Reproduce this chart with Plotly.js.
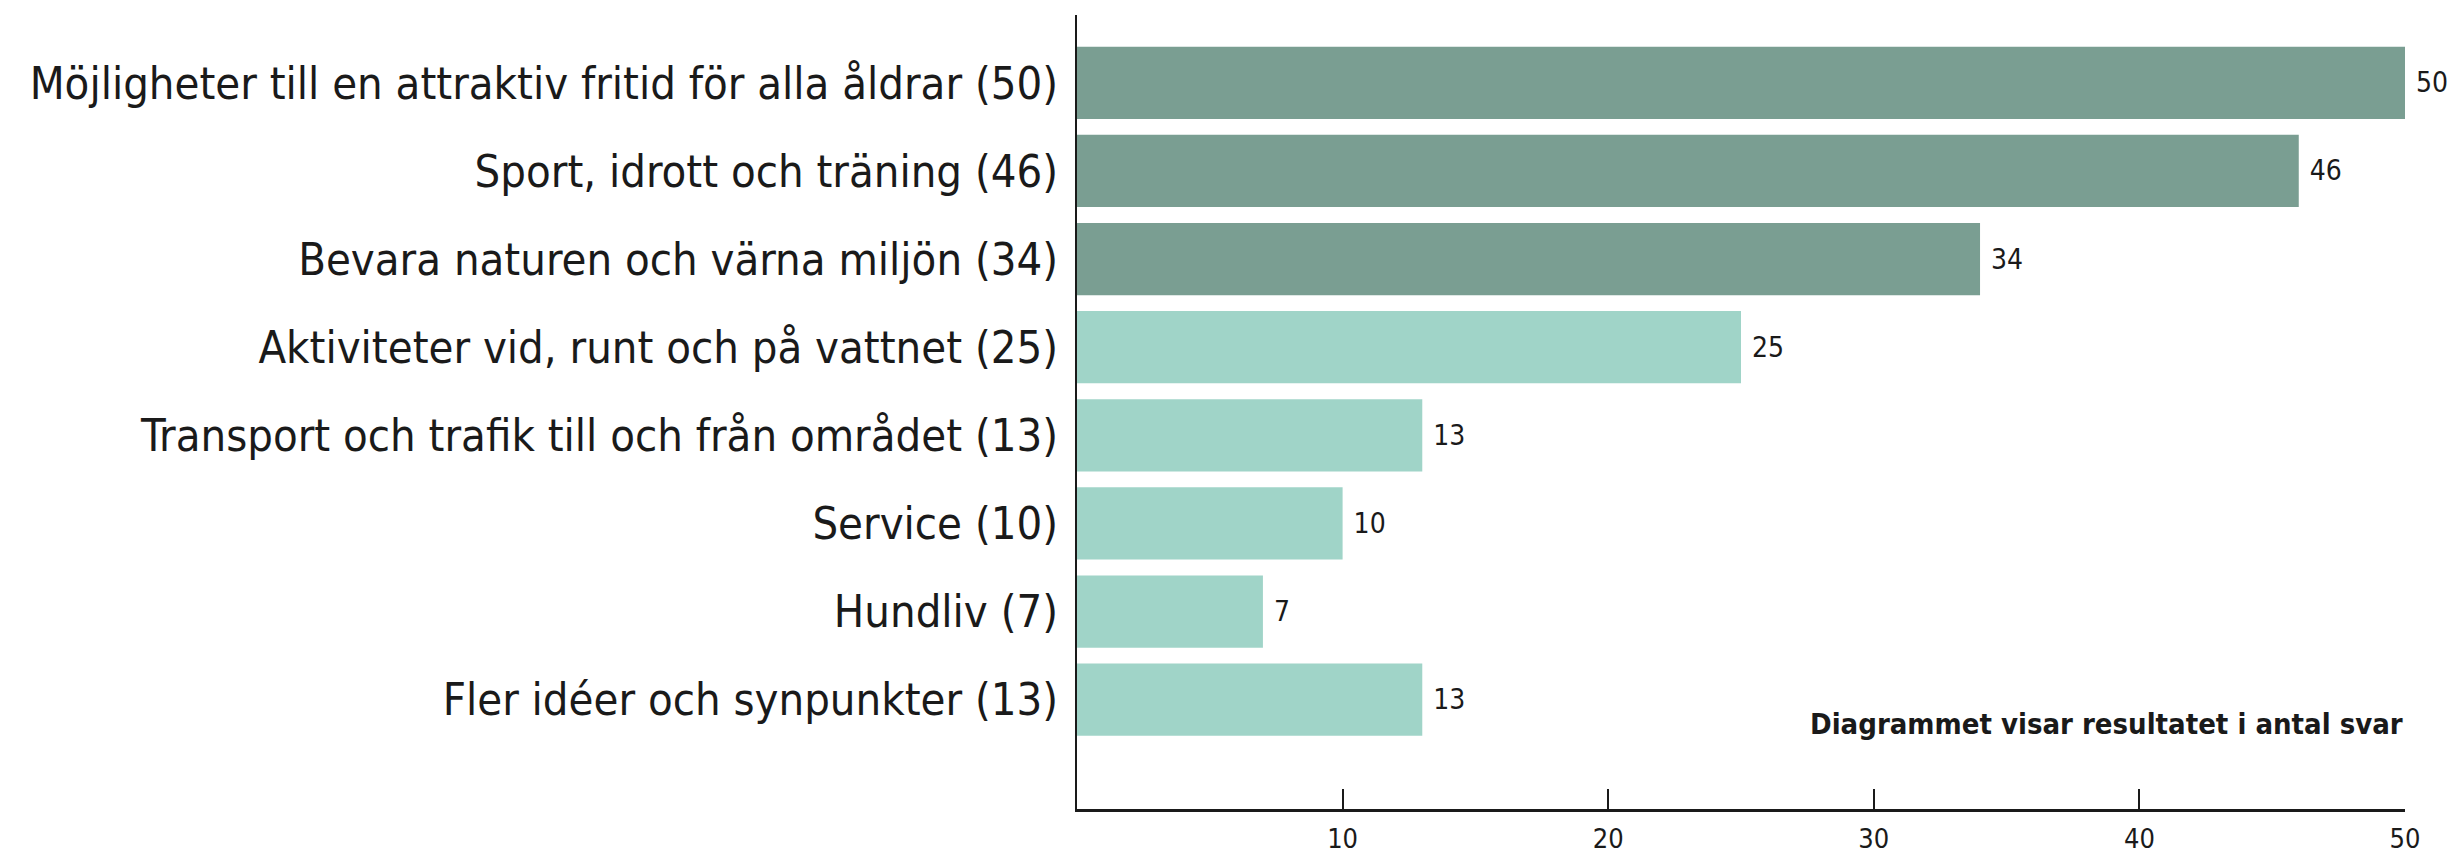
<!DOCTYPE html>
<html>
<head>
<meta charset="utf-8">
<script src="https://cdn.plot.ly/plotly-3.0.1.min.js"></script>
<style>
  html, body { margin: 0; padding: 0; background: #fff; }
  #plot { width: 2463px; height: 855px; }
</style>
</head>
<body>
<div id="plot"></div>
<script>
// categories and answer counts
let arrCategories = [
  "Möjligheter till en attraktiv fritid för alla åldrar (50)",
  "Sport, idrott och träning (46)",
  "Bevara naturen och värna miljön (34)",
  "Aktiviteter vid, runt och på vattnet (25)",
  "Transport och trafik till och från området (13)",
  "Service (10)",
  "Hundliv (7)",
  "Fler idéer och synpunkter (13)"
];
let arrCounts = [50, 46, 34, 25, 13, 10, 7, 13];
let arrTickVals = [10, 20, 30, 40, 50];
let strNote = "Diagrammet visar resultatet i antal svar";

// top three get the darker green
let arrColors = arrCounts.map((v, i) => i < 3 ? "#7a9e92" : "#a0d4c8");

let strFont = "'DejaVu Sans Condensed', 'Liberation Sans', sans-serif";

let objBars = {
  type: "bar",
  orientation: "h",
  x: arrCounts,
  y: arrCategories,
  marker: { color: arrColors, line: { width: 0 } },
  text: arrCounts.map(String),
  texttemplate: "\u00a0%{text}",
  textposition: "outside",
  cliponaxis: false,
  textfont: { family: strFont, size: 28, color: "#1a1a1a" },
  hoverinfo: "none"
};

let layout = {
  width: 2463,
  height: 855,
  margin: { l: 1077, r: 58, t: 15, b: 46 },
  paper_bgcolor: "#ffffff",
  plot_bgcolor: "#ffffff",
  showlegend: false,
  bargap: 0.18,
  font: { family: strFont, color: "#1a1a1a" },
  xaxis: {
    range: [0, 50],
    tickvals: arrTickVals,
    ticktext: arrTickVals.map(String),
    ticks: "inside",
    ticklen: 20,
    tickwidth: 2,
    tickcolor: "#1a1a1a",
    showline: true,
    linecolor: "#1a1a1a",
    linewidth: 3,
    showgrid: false,
    zeroline: false,
    ticklabelstandoff: 4,
    tickfont: { family: strFont, size: 27, color: "#1a1a1a" }
  },
  yaxis: {
    type: "category",
    autorange: false,
    range: [8.24, -0.77],
    ticks: "",
    showline: true,
    linecolor: "#1a1a1a",
    linewidth: 2,
    showgrid: false,
    zeroline: false,
    ticklabelstandoff: 8,
    tickfont: { family: strFont, size: 45, color: "#1a1a1a" }
  },
  annotations: [{
    text: "<b>" + strNote + "</b>",
    xref: "x",
    yref: "y",
    x: 50,
    y: 7.27,
    xanchor: "right",
    yanchor: "middle",
    showarrow: false,
    font: { family: strFont, size: 29, color: "#1a1a1a" }
  }]
};

Plotly.newPlot("plot", [objBars], layout, { displayModeBar: false, staticPlot: true });
</script>
</body>
</html>
